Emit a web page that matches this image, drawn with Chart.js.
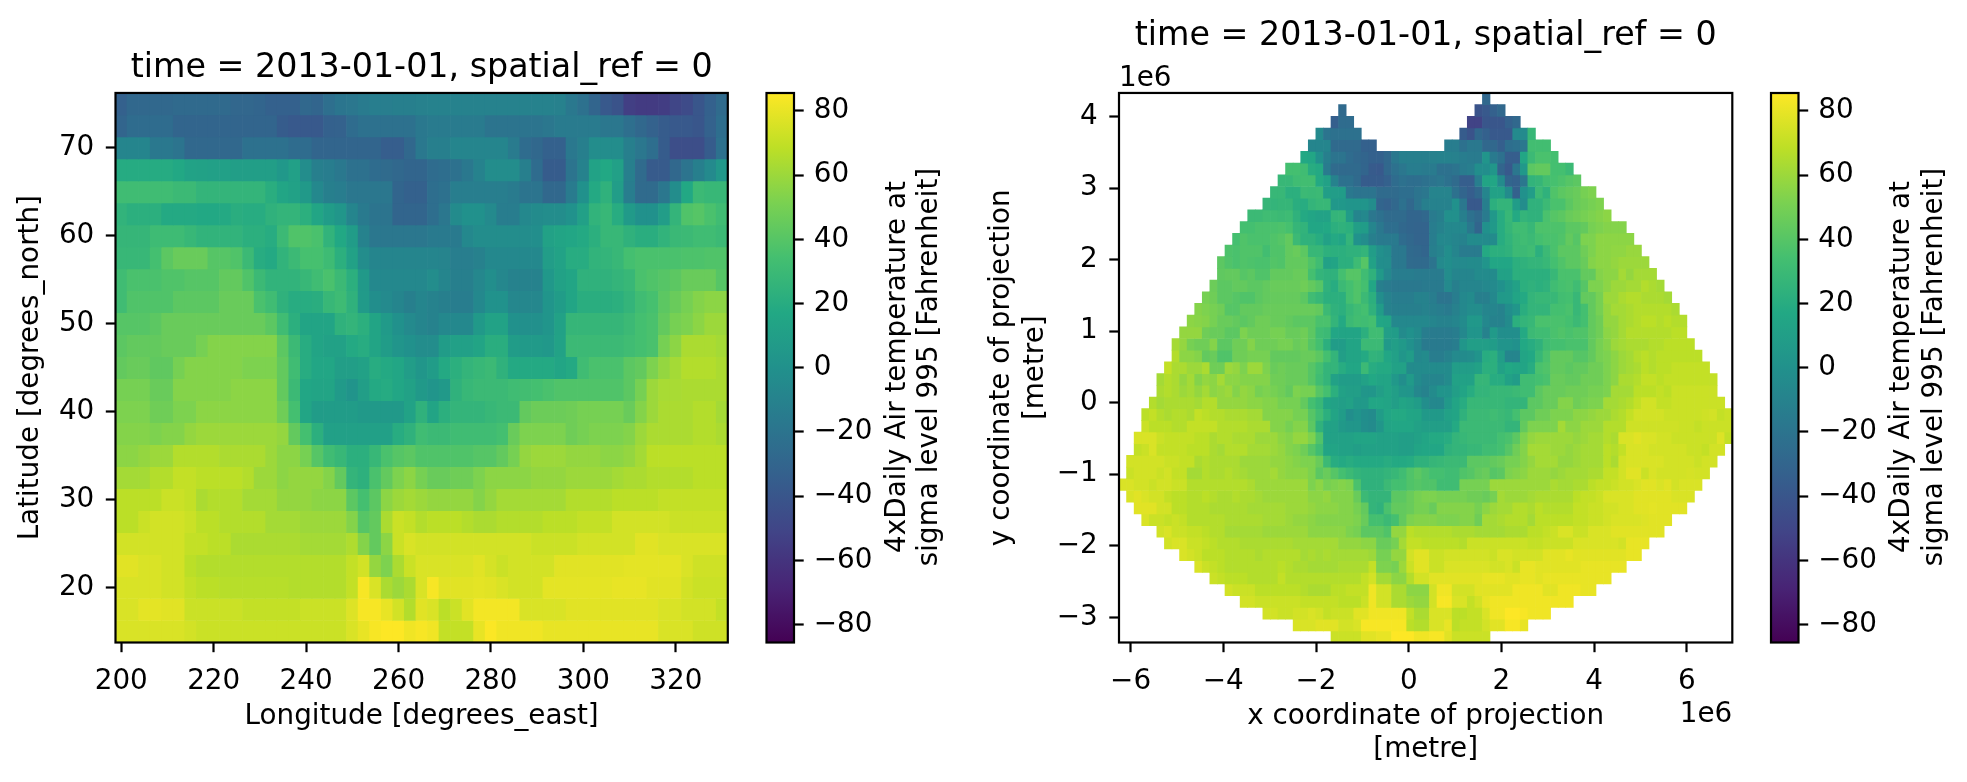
<!DOCTYPE html>
<html>
<head>
<meta charset="utf-8">
<title>Air temperature maps</title>
<script src="https://cdn.jsdelivr.net/npm/chart.js@4"></script>
<style>
    body { margin: 0; background: #fff; }
    canvas { position: absolute; top: 0; }
</style>
</head>
<body>
<canvas id="mapLatLon" style="left:0" width="750" height="782"></canvas>
<canvas id="barLatLon" style="left:750px" width="210" height="782"></canvas>
<canvas id="mapProjected" style="left:960px" width="790" height="782"></canvas>
<canvas id="barProjected" style="left:1750px" width="217" height="782"></canvas>
<script>
const __ = null;

const titleText = 'time = 2013-01-01, spatial_ref = 0';
const colorbarLines = ['4xDaily Air temperature at', 'sigma level 995 [Fahrenheit]'];
const lonTicks = [200, 220, 240, 260, 280, 300, 320];
const latTicks = [20, 30, 40, 50, 60, 70];
const projXTicks = [-6, -4, -2, 0, 2, 4, 6];
const projYTicks = [-3, -2, -1, 0, 1, 2, 3, 4];
const colorTicks = [-80, -60, -40, -20, 0, 20, 40, 60, 80];
const colorMin = -85.6;
const colorMax = 85.6;
const viridisStops = ['#440154', '#482475', '#414487', '#355f8d', '#2a788e', '#21918c', '#22a884', '#44bf70', '#7ad151', '#bddf26', '#fde725'];

// temperature on the lat/lon grid, north row first, 200E to 330E
const latLonRows = [
    [-33,-28,-28,-28,-28,-27,-27,-27,-27,-27, -29,-29,-30,-33,-33,-33,-28,-30,-23,-19, -18,-15,-13,-13,-12,-12,-11,-10,-10,-10, -10,-10,-10,-10,-10,-10,-10,-10,-11,-17, -22,-30,-38,-42,-54,-56,-56,-55,-50,-47, -40,-33,-26],
    [-30,-25,-25,-25,-25,-30,-30,-30,-30,-30, -30,-30,-30,-30,-36,-38,-38,-38,-33,-32, -25,-22,-22,-22,-22,-22,-17,-15,-15,-15, -15,-15,-20,-20,-20,-20,-20,-18,-15,-15, -15,-15,-18,-18,-23,-28,-32,-36,-38,-38, -40,-32,-24],
    [-8,-8,-8,-17,-17,-20,-28,-28,-28,-28, -28,-22,-22,-22,-22,-25,-25,-30,-30,-30, -30,-30,-30,-35,-35,-28,-17,-12,-12,-8, -8,-8,-8,-8,-15,-25,-28,-33,-33,-17, -12,-3,-3,-3,-12,-18,-24,-36,-45,-45, -45,-36,-22],
    [19,19,19,19,19,17,13,12,11,11, 10,10,10,10,5,11,-3,-12,-14,-17, -22,-22,-25,-26,-28,-30,-30,-25,-24,-22, -17,-10,-3,-3,-3,-12,-25,-36,-36,-20, -10,13,17,11,-12,-26,-37,-37,-28,-20, -12,-5,5],
    [32,32,32,32,32,30,30,26,26,26, 26,26,26,21,15,12,6,-6,-12,-14, -18,-18,-18,-18,-30,-33,-33,-24,-22,-13, -13,-13,-13,-13,-15,-20,-20,-28,-28,-15, 0,18,24,9,-14,-26,-26,-18,-3,17, 30,28,28],
    [25,22,22,22,18,18,18,17,17,18, 21,20,20,24,26,26,22,15,8,4, -8,-16,-20,-20,-30,-30,-30,-24,-18,-4, 0,0,-5,-14,-14,-6,-4,-3,-3,1, 11,25,28,20,7,0,0,9,26,38, 40,36,32],
    [27,27,27,31,31,31,28,25,25,25, 25,22,22,20,30,38,38,36,25,17, 8,-10,-18,-18,-18,-18,-18,-16,-16,-16, -6,-3,-3,-3,-3,-3,-2,12,14,16, 18,22,28,28,24,21,21,25,29,30, 32,32,30],
    [28,28,28,34,42,46,46,46,40,40, 38,30,20,18,25,30,35,35,31,22, 12,-3,-8,-8,-8,-8,-8,-8,-9,-13, -13,-11,-6,-6,-6,-6,-6,9,13,20, 20,25,26,28,34,36,36,36,36,37, 37,38,38],
    [32,36,36,36,38,38,40,40,40,44, 44,38,30,25,25,25,28,32,36,30, 22,6,-6,-6,-6,-6,-6,-3,-8,-12, -12,-7,-2,-7,-10,-10,-10,5,12,15, 24,24,24,26,28,36,38,40,42,46, 46,46,40],
    [32,38,38,38,38,42,42,42,42,46, 46,46,36,32,24,20,20,21,28,31, 24,7,-2,-5,-8,-12,-8,-10,-12,-14, -14,-6,1,1,-7,-7,-7,3,8,15, 21,21,21,22,26,32,35,42,46,50, 54,56,56],
    [40,40,40,42,46,46,46,46,46,46, 46,46,46,42,32,22,14,14,14,24, 26,22,14,7,0,-5,-8,-10,-6,-6, -6,6,13,13,0,-1,-1,3,12,27, 27,27,27,27,30,34,36,44,50,52, 56,60,60],
    [42,44,44,44,46,46,46,50,54,54, 54,54,54,54,42,30,20,14,12,12, 18,20,14,8,3,0,-3,-3,8,11, 11,14,21,21,8,7,7,5,13,30, 30,30,30,30,32,34,36,50,56,64, 64,64,62],
    [44,46,46,43,43,50,54,54,54,54, 54,52,52,52,44,32,20,16,16,10, 10,12,20,18,16,9,4,8,18,22, 26,28,30,24,18,18,18,18,15,18, 32,36,36,36,42,44,52,58,62,66, 66,66,64],
    [50,50,50,46,46,54,54,54,54,54, 56,56,56,56,44,30,16,14,14,7, 2,10,18,19,16,12,6,3,6,24, 28,30,30,30,32,33,34,36,38,38, 38,38,38,38,42,50,60,63,63,64, 64,64,64],
    [52,52,52,48,48,52,52,56,56,56, 56,56,56,56,48,34,15,8,8,8, 8,6,6,6,6,13,24,14,22,26, 26,26,28,30,30,44,47,47,47,48, 50,50,50,50,46,54,60,64,64,64, 66,66,62],
    [54,54,54,52,54,54,58,60,60,60, 60,60,60,60,58,44,34,22,11,11, 11,11,11,11,20,24,32,30,30,32, 32,32,32,34,46,52,52,52,52,48, 50,52,52,52,54,60,64,64,64,64, 66,66,64],
    [56,56,58,60,60,66,66,66,66,64, 64,64,64,60,56,56,50,40,32,28, 22,22,28,36,40,42,38,38,38,38, 38,40,40,44,50,58,60,60,60,58, 58,58,56,56,58,62,68,68,68,68, 68,68,68],
    [62,62,62,66,66,70,70,68,68,68, 68,66,60,60,56,58,58,58,54,44, 26,23,36,44,52,56,50,46,46,48, 48,52,56,56,56,56,58,58,58,60, 60,60,60,62,64,64,66,66,66,66, 68,68,68],
    [68,68,68,68,72,72,70,64,66,66, 66,62,62,62,58,58,58,56,56,56, 42,34,42,56,60,62,60,58,58,58, 58,54,58,62,62,62,62,62,62,66, 66,66,66,68,68,68,68,70,70,70, 70,70,70],
    [68,68,72,74,74,74,72,68,68,66, 66,66,66,62,62,62,60,60,60,60, 54,40,44,64,72,70,66,68,68,68, 66,64,64,66,66,66,66,68,68,68, 70,70,70,74,74,74,74,74,72,72, 72,72,72],
    [74,74,74,74,74,74,70,70,68,68, 64,64,64,64,64,64,62,62,62,62, 65,54,44,56,72,76,74,74,74,74, 74,74,74,74,74,74,72,72,72,72, 74,74,74,74,74,78,78,76,76,76, 76,76,76],
    [78,78,76,76,74,74,68,66,66,66, 66,66,66,66,66,66,66,66,66,66, 70,74,58,52,64,72,76,76,76,76, 76,78,75,72,74,74,74,74,78,78, 78,78,78,78,79,79,79,79,79,76, 73,73,73],
    [76,76,76,76,74,74,70,68,68,67, 67,67,67,67,67,66,66,66,66,66, 70,84,76,64,60,64,76,84,78,78, 78,79,78,76,74,74,74,79,79,79, 79,79,79,80,80,80,78,78,78,74, 72,72,72],
    [76,76,79,79,78,78,72,72,72,72, 72,70,70,70,70,70,72,72,72,72, 77,84,84,80,74,66,78,76,68,72, 78,83,83,83,83,76,76,76,76,78, 78,78,78,78,78,78,78,76,76,74, 74,74,70],
    [76,76,76,76,76,76,74,72,72,72, 72,72,72,72,72,72,72,72,72,72, 76,80,84,86,86,82,84,82,70,70, 70,80,85,82,82,82,82,80,80,80, 80,80,80,80,80,80,80,76,76,76, 73,73,73]
];

// first filled column of each row on the projected grid, top row first
const projStarts = [48,29,28,26,25,24,22,21,20,19,17,16,15,14,13,13,12,11,10,9,8,7,7,6,5,5,4,3,3,2,2,1,1,0,1,2,3,5,6,8,10,12,14,16,19,23,28];

// temperature on the projected grid, each row begins at its column in projStarts
const projRows = [
    [-28],
    [-27, __,__,__,__,__,__,__,__,__,__,__,__,__,__,__,__,__, -42,-38,-33,-28],
    [-34,-25,-25, __,__,__,__,__,__,__,__,__,__,__,__,__,__,__, -52,-52,-40,-40,-40,-33,-28],
    [-5,-20,-22,-22,-22,-22, __,__,__,__,__,__,__,__,__,__,__,__,__, -36,-42,-28,-33,-38,-38,-38,-5,-5,28],
    [-8,-8,-8,-27,-27,-27,-27,-33,-33, __,__,__,__,__,__,__,__,__, -14,-14,-22,-17,-17,-28,-28,-34,-24,-22,-18,33,33,33],
    [17,16,0,-12,-20,-20, -25,-28,-30,-33,-33,-28,-17,-12,-12,-12, -12,-11,-10,-10,-11,-14,-15,-15,3,-16, -22,-35,-35,16,30,36,36,34],
    [34,34,32,20,18,-15,-26,-27, -27,-27,-30,-37,-38,-28,-22,-18,-14,-14, -15,-15,-22,-22,-20,-15,-13,-2,-2,4, -30,-38,-18,5,42,44,44,34,34,30],
    [28,28,32,33,33,18,12,-10,-22, -22,-27,-36,-36,-36,-33,-25,-22,-24,-24, -22,-20,-18,-22,-26,-35,-35,-13,14,16, -4,-30,-32,-18,25,27,33,35,37,40,42],
    [28,28,22,22,30,29,30,10,9,8, -17,-20,-20,-20,-26,-26,-26,-24,-24,-20, -18,-9,-9,-9,-22,-30,-35,-28,-8,12, 12,-4,-33,0,9,30,24,38,42,44, 46,50,52],
    [27, 26,27,27,21,20,26,28,28,5,5, 3,3,3,-3,-30,-32,-28,-22,-28,-20, -12,-10,-10,-10,0,-18,-38,-38,-12,22, 26,26,8,-3,24,24,30,36,36,42, 46,48,50,52],
    [30,30,32, 31,30,31,24,18,15,13,13,26,27, 8,-8,-6,-18,-22,-26,-26,-26,-30,-30, -28,-15,-12,-1,-1,-12,-22,-27,-15,5, 20,28,18,26,24,24,36,40,42,46, 48,50,52,54,56],
    [34,34,36,36, 36,37,35,27,25,16,16,17,22,24, 22,10,8,-8,-17,-24,-24,-28,-30,-31, -31,-14,-10,-6,-6,-6,-17,-30,0,6, 20,27,32,32,28,37,37,37,37,42, 42,44,50,52,54,54,54],
    [34,38,36,36,36, 38,40,44,30,24,24,20,12,18,15, 26,1,-3,-12,-16,-16,-16,-25,-28,-31, -31,-14,-6,-6,-8,-10,-4,-4,-4,-4, 20,25,30,32,30,34,36,36,38,44, 40,52,52,56,56,56,56,56],
    [37,36,38,38,38,33, 38,38,44,46,42,28,28,23,22,22, 24,24,26,9,-1,-4,-17,-17,-27,-28, -30,-12,-9,-2,-8,-15,-15,-15,18,22, 22,24,30,30,32,22,30,36,42,42, 42,48,52,56,56,57,57,59,59],
    [42,38,36,38,37,36,36, 39,38,44,44,44,38,32,12,14,22, 22,31,40,12,-2,-3,-17,-17,-26,-27, -27,-20,-5,-2,-5,-5,-4,-4,3,16, 16,16,22,24,26,26,28,34,38,42, 42,46,54,56,56,58,60,60,60,60],
    [43,44,44,40,42,38,38, 44,44,44,46,46,34,26,24,24,34, 40,40,32,24,6,-6,-14,-14,-14,-15, -15,-15,-15,-3,-8,-8,-8,-4,-4,-4, 12,12,22,22,22,22,22,28,36,36, 36,44,44,54,56,56,62,58,62,62,62],
    [47,42,42,44,44,42,42,44, 46,46,46,46,48,44,40,24,20,30, 34,38,34,16,-12,-15,-17,-17,-17,-17, -16,-16,-16,-5,-12,-8,-8,-8,-6,-5, 0,6,12,22,24,22,24,32,35,36, 32,40,52,52,56,60,60,62,62,66,64,62],
    [50,48,42,42,40,38,38,42,44, 45,45,45,45,42,32,28,22,22,22, 34,38,30,22,-2,-10,-14,-14,-14,-10, -10,-14,-20,-20,-14,-6,-4,-12,-12,-6, 6,7,14,18,26,28,28,28,33,34, 28,44,44,50,60,60,64,66,66,64,64,64,62],
    [54,52,50,48,40,40,44,44,44,46, 46,46,46,46,46,46,44,30,24,22, 28,32,34,24,8,-10,-12,-12,-12,-12, -10,-12,-14,-16,-11,-6,-3,-3,-8,-8, -10,-2,4,21,26,26,26,34,34,36, 28,34,44,50,58,62,62,64,66,66,66,66,66,64],
    [56, 55,54,50,46,46,44,42,44,48,48, 46,46,44,42,42,42,36,36,26,18, 30,33,32,34,16,14,-6,-6,-6,-6, -6,-8,-10,-10,-8,-4,5,5,-6,-10, -10,-4,22,26,28,36,36,36,36,34, 30,34,44,48,58,58,62,64,66,68,68,66,68,66,66],
    [58,58, 58,48,46,46,42,42,52,48,48,48, 50,50,46,46,48,42,32,30,16,14, 14,14,22,32,32,10,8,-4,0,-4, -14,-15,-15,-15,-14,-6,3,3,-10,7, -2,-2,-2,18,30,32,32,36,38,36, 38,38,44,48,56,58,62,66,66,66,66,66,66,68,68],
    [62,58,50, 48,48,54,42,42,48,48,54,48,48, 48,50,50,46,48,40,34,22,8,8, 14,14,30,30,30,6,10,6,0,-6, -16,-16,-16,-16,-14,4,10,10,10,8, 2,2,0,17,20,24,32,34,34,36, 36,36,44,50,54,60,62,64,64,64,66,66,68,68,68,68],
    [66,56,56, 54,44,46,38,38,48,48,50,50,50, 44,44,44,44,46,46,42,34,26,10, 14,14,18,25,24,16,11,4,8,-6, -4,-14,-14,-10,-5,-4,-3,2,20,22, 9,-8,-8,14,17,28,36,44,44,44, 40,40,44,50,52,56,60,62,66,68,66,68,68,68,68,68,68],
    [70,64,64,60, 60,64,48,48,60,58,52,60,60,52, 46,48,46,46,46,40,34,26,26,20, 16,16,30,20,18,18,12,12,-4,-4, -4,-4,-4,-4,9,9,9,12,22,22, 12,17,15,14,20,36,38,44,44,42, 44,44,48,48,52,56,60,62,64,68,66,68,68,70,70,70,70,70],
    [62,66,64,58,62, 54,58,56,62,56,56,54,54,54,54, 48,48,46,46,46,40,32,26,12,8, 8,8,12,17,14,14,5,-2,7,-4, -8,-8,-8,-4,12,12,12,27,27,20, 20,12,8,32,32,34,36,46,46,44, 44,48,48,48,52,56,64,64,66,70,70,68,70,70,70,70,70,70,70],
    [64,66,64,60,62, 58,62,56,58,60,54,58,56,50,52, 50,48,44,52,50,50,40,34,22,12, 10,10,4,4,10,14,10,4,3,-7, -10,-4,2,2,10,14,20,26,26,28, 28,28,30,32,32,42,46,46,46,48, 48,48,50,50,52,62,62,62,68,68,68,70,68,72,72,72,72,72,72],
    [66,62,64,64,64,64, 62,66,66,58,58,58,58,56,56,54, 54,50,50,50,44,34,28,14,12,10, 12,6,6,16,16,14,10,14,12,8, -2,-6,-6,6,14,20,28,28,28,28, 28,26,26,26,42,42,46,46,54,54, 48,50,52,52,62,62,64,66,70,74,74,70,70,72,72,72,72,72,72,72],
    [68,70,66,64,66,66,64, 70,68,66,66,64,64,64,62,62,54, 54,54,54,50,50,40,32,22,14,8, -2,2,-2,-4,8,16,18,18,15,14, 6,6,6,12,14,24,30,30,30,32, 30,28,34,42,42,48,48,52,52,52, 56,56,58,60,60,64,66,70,74,74,74,74,72,72,72,72,72,73,74,70,72],
    [72,68,68,68,66,66,70, 70,70,70,66,66,66,66,64,64,64, 54,54,50,54,54,42,24,12,12,6, 4,4,-2,-4,4,14,16,16,16,12, 10,10,10,10,18,30,30,30,30,30, 30,26,26,44,52,52,52,52,62,56, 56,60,60,60,66,66,66,73,73,73,73,73,73,73,72,72,70,72,72,72,72],
    [76,76,76,72,70,70,70,70, 68,68,64,66,66,64,64,64,60,60, 60,56,54,58,58,52,38,12,12,12, 12,14,14,14,12,12,12,10,10,12, 15,18,18,20,26,28,30,30,30,30, 34,36,42,52,58,60,60,60,60,60, 58,60,62,62,66,64,76,76,78,76,76,74,74,72,72,72,72,72,72,77,70],
    [70,72,76,70,70,70,70,68, 68,68,64,62,66,66,66,62,62,62, 60,58,54,52,48,40,32,14,14,12, 12,10,12,12,12,12,12,10,10,14, 16,16,16,24,26,26,28,28,32,32, 34,40,48,54,62,62,62,60,60,58, 60,62,62,62,68,66,70,76,76,76,74,74,74,74,74,72,72,70,74,74],
    [74,74,74,74,74,72,72,70,70, 64,66,64,64,64,64,60,60,60,60, 58,58,56,54,52,52,46,30,20,18, 20,18,18,18,18,20,18,18,19,24, 24,27,28,30,30,30,42,42,42,44, 46,50,50,54,58,62,62,62,58,58, 60,62,62,62,68,64,74,76,76,76,76,76,74,74,74,74,72,74,74],
    [72,74,74,74,72,74,70,70,62, 62,66,64,64,66,64,62,60,60,60, 62,58,56,56,56,52,42,46,40,34, 30,26,24,24,24,26,28,32,38,42, 38,34,34,32,32,38,40,44,46,40, 42,52,54,56,60,60,60,58,60,62, 62,62,64,64,70,70,74,78,78,72,76,74,74,74,74,75,74,74],
    [76,76,74,74,72,74,74,72,72,66, 66,66,66,66,66,66,66,64,60,60, 60,60,60,60,60,52,56,50,52,54, 52,36,24,24,24,30,34,34,38,40, 38,38,32,32,32,50,50,50,50,60, 60,60,60,60,60,60,60,64,62,62, 64,64,68,70,70,72,74,74,76,78,78,76,78,74,76,76,76],
    [76,78,76,74,74,70,68,68,66, 66,68,66,64,64,66,64,64,62,60, 60,60,60,60,60,56,56,58,54,54, 54,46,30,26,26,26,42,42,46,50, 52,52,50,50,50,50,48,48,46,50, 62,60,60,60,62,64,64,64,64,64, 68,70,70,72,76,76,76,76,78,78,78,78,78,76,76,76],
    [78,78,78,74,74,68,68,66, 66,66,64,64,64,64,64,62,62,62, 62,62,60,60,60,58,56,56,56,54, 54,50,44,26,24,36,44,44,46,50, 50,46,54,54,54,54,54,50,56,60, 62,62,66,66,64,68,66,66,66,66, 70,70,72,72,74,74,76,76,78,78,79,78,78,78,78],
    [76,72,72,70,72,70,66, 66,66,66,66,64,64,64,64,64,62, 62,62,60,58,58,56,54,54,54,54, 54,52,46,34,34,30,34,44,52,54, 54,54,52,52,52,54,54,48,62,62, 64,66,66,66,62,68,68,68,68,68, 70,70,72,72,74,76,76,76,76,77,78,78,78],
    [74,76,72,72,70, 70,68,66,66,62,62,62,62,62,60, 60,60,60,60,60,56,56,56,56,56, 52,50,42,42,42,38,58,58,68,66, 66,66,66,66,64,64,64,62,62,62, 62,64,64,64,68,68,70,72,76,76, 72,72,76,76,76,78,78,78,78,78,78,78],
    [74,76,76,72, 72,70,68,66,66,66,64,64,64,64, 64,64,64,62,62,62,62,62,62,58, 58,58,56,56,46,46,50,62,70,70, 68,68,68,68,68,66,72,72,72,72, 72,72,72,72,70,70,72,72,72,72, 76,76,76,76,76,76,74,80,80,80],
    [76,74, 72,68,68,68,66,66,66,66,64,66, 66,66,66,66,62,64,62,64,62,62, 62,62,62,60,50,50,58,58,74,78, 78,72,72,74,74,74,74,74,74,72, 76,76,74,74,74,74,78,78,78,80, 78,78,78,78,78,78,78,80,80],
    [76,72,70,68,66,66,66,66,66,66, 66,68,66,64,64,62,62,62,62,64, 64,64,64,70,52,52,50,60,72,78, 78,72,72,76,76,76,76,76,76,74, 74,76,72,80,80,78,78,78,78,78, 78,80,80,80,80,80,80],
    [72,70,68,68,68,66,66,66, 66,70,66,66,66,66,66,66,66,66, 66,66,70,74,62,62,56,56,66,74, 74,78,78,78,78,78,78,78,80,80, 80,78,78,80,80,78,80,80,80,80, 80,80,80,80,80],
    [74,72,72,72,68,68, 68,68,68,68,66,64,64,64,68,68, 70,70,70,82,74,74,64,64,56,56, 56,74,82,82,74,74,74,78,78,78, 78,78,82,82,82,82,78,78,82,82, 82,80,80],
    [74,74,72,72, 72,72,72,72,70,70,70,70,70,68, 68,68,72,82,74,74,64,64,60,58, 58,74,84,84,76,76,70,74,80,82, 82,82,82,82,82,82,82,82,82,82],
    [74, 74,72,72,74,74,76,74,70,72,72, 72,78,78,82,82,82,82,82,70,64, 64,76,76,76,68,68,70,70,76,82, 82,86,86,84,82,82,82],
    [76,76,76,78,78,78,74, 74,76,84,84,84,84,84,84,68,66, 66,76,76,80,68,70,70,70,74,78, 78,84,84,80],
    [72,72, 72,72,78,78,80,80,86,86,86,82, 82,84,84,78,72,72,72,72,72]
];

// grid geometry of the two maps
const lonFirst = 200, lonStep = 2.5;
const latFirst = 75, latStep = -2.5;
const projXMin = -6.25, projXMax = 6.98, projYMin = -3.352, projYMax = 4.331;
const projColumns = 81, projRowCount = 47;

Chart.defaults.font.family = '"DejaVu Sans"';
Chart.defaults.font.size = 27.8;
Chart.defaults.color = '#000';

function hexToRgb(hex) {
    return [1, 3, 5].map(i => parseInt(hex.slice(i, i + 2), 16));
}

function viridis(value) {
    const t = Math.min(1, Math.max(0, (value - colorMin) / (colorMax - colorMin))) * (viridisStops.length - 1);
    const i = Math.min(Math.floor(t), viridisStops.length - 2);
    const a = hexToRgb(viridisStops[i]);
    const b = hexToRgb(viridisStops[i + 1]);
    const mix = a.map((c, k) => Math.round(c + (b[k] - c) * (t - i)));
    return 'rgb(' + mix.join(',') + ')';
}

function formatTick(value) {
    return value < 0 ? '\u2212' + Math.abs(value) : String(value);
}

// one floating-bar dataset per grid row, coloured cell by cell
function cellDatasets(rows, starts, xAt, yAt, halfHeight) {
    return rows.map((row, r) => {
        const data = [];
        const colors = [];
        row.forEach((value, k) => {
            if (value === null) return;
            const y = yAt(r);
            data.push({ x: xAt(starts[r] + k), y: [y - halfHeight, y + halfHeight] });
            colors.push(viridis(value));
        });
        return { data: data, backgroundColor: colors };
    });
}

// axes frame and the free-standing labels that are not axis titles
const framePlugin = {
    id: 'frame',
    afterDatasetsDraw(chart, args, opts) {
        const ctx = chart.ctx;
        const area = chart.chartArea;
        ctx.save();
        ctx.strokeStyle = '#000';
        ctx.lineWidth = 2.2;
        ctx.strokeRect(area.left, area.top, area.right - area.left, area.bottom - area.top);
        ctx.fillStyle = '#000';
        ctx.font = '27.8px "DejaVu Sans"';
        ctx.textBaseline = 'middle';
        (opts.notes || []).forEach(note => {
            ctx.save();
            ctx.translate(note.x, note.y);
            ctx.rotate(note.rotate || 0);
            ctx.textAlign = note.align || 'center';
            ctx.fillText(note.text, 0, 0);
            ctx.restore();
        });
        ctx.restore();
    }
};

function tickAxis(ticks, pad) {
    return {
        afterBuildTicks: scale => { scale.ticks = ticks.map(v => ({ value: v })); },
        ticks: { autoSkip: false, maxRotation: 0, padding: pad, callback: formatTick },
        grid: { drawOnChartArea: false, offset: false, tickLength: 9.7, tickWidth: 2.2, tickColor: '#000' },
        border: { display: false }
    };
}

function mapChart(id, layout) {
    return new Chart(document.getElementById(id), {
        type: 'bar',
        data: { datasets: layout.datasets },
        plugins: [framePlugin],
        options: {
            responsive: false,
            animation: false,
            events: [],
            layout: { padding: { right: layout.rightPad } },
            datasets: { bar: { grouped: false, barPercentage: 1, categoryPercentage: 1, borderWidth: 0 } },
            plugins: {
                legend: { display: false },
                tooltip: { enabled: false },
                frame: { notes: layout.notes },
                title: {
                    display: true,
                    text: titleText,
                    fullSize: false,
                    color: '#000',
                    font: { size: 33.3, weight: 'normal', lineHeight: 1.2 },
                    padding: layout.titlePad
                }
            },
            scales: {
                x: Object.assign(tickAxis(layout.xTicks, 13), {
                    type: 'linear',
                    offset: false,
                    min: layout.xMin,
                    max: layout.xMax,
                    afterFit: scale => { scale.height = 139.5; },
                    title: {
                        display: true,
                        text: layout.xTitle,
                        font: { size: 27.8, lineHeight: 1.2 },
                        padding: { top: 0, bottom: layout.xTitleBottom }
                    }
                }),
                y: Object.assign(tickAxis(layout.yTicks, 11.5), {
                    min: layout.yMin,
                    max: layout.yMax,
                    afterFit: scale => { scale.width = layout.yWidth; },
                    title: {
                        display: true,
                        text: layout.yTitle,
                        font: { size: 27.8, lineHeight: 1.2 },
                        padding: { top: layout.yTitleTop, bottom: 0 }
                    }
                })
            }
        }
    });
}

function colorbarChart(id, layout) {
    return new Chart(document.getElementById(id), {
        type: 'bar',
        data: {
            labels: ['scale'],
            datasets: [{
                data: [[colorMin, colorMax]],
                backgroundColor: context => {
                    const area = context.chart.chartArea;
                    if (!area) return viridis(0);
                    const gradient = context.chart.ctx.createLinearGradient(0, area.bottom, 0, area.top);
                    viridisStops.forEach((c, i) => gradient.addColorStop(i / (viridisStops.length - 1), c));
                    return gradient;
                }
            }]
        },
        plugins: [framePlugin],
        options: {
            responsive: false,
            animation: false,
            events: [],
            layout: { padding: { left: layout.leftPad, top: 93, bottom: 139.5 } },
            datasets: { bar: { barPercentage: 1, categoryPercentage: 1, borderWidth: 0 } },
            plugins: {
                legend: { display: false },
                tooltip: { enabled: false },
                frame: { notes: layout.notes }
            },
            scales: {
                x: { display: false },
                y: Object.assign(tickAxis(colorTicks, 10), {
                    position: 'right',
                    min: colorMin,
                    max: colorMax,
                    afterFit: scale => { scale.width = layout.yWidth; }
                })
            }
        }
    });
}

function colorbarNotes(x1, x2) {
    return [
        { text: colorbarLines[0], x: x1, y: 367, rotate: -Math.PI / 2 },
        { text: colorbarLines[1], x: x2, y: 367, rotate: -Math.PI / 2 }
    ];
}

// longitude/latitude map
mapChart('mapLatLon', {
    datasets: cellDatasets(
        latLonRows,
        latLonRows.map(() => 0),
        c => lonFirst + lonStep * c,
        r => latFirst + latStep * r,
        Math.abs(latStep) / 2
    ),
    xMin: lonFirst - lonStep / 2,
    xMax: lonFirst + lonStep * 52.5,
    yMin: latFirst + latStep * 24.5,
    yMax: latFirst - latStep / 2,
    xTicks: lonTicks,
    yTicks: latTicks,
    xTitle: 'Longitude [degrees_east]',
    yTitle: 'Latitude [degrees_north]',
    xTitleBottom: 48.8,
    yTitleTop: 14.3,
    yWidth: 115.5,
    rightPad: 22.2,
    titlePad: { top: 48.5, bottom: 4.5 },
    notes: []
});
colorbarChart('barLatLon', { leftPad: 16.5, yWidth: 166, notes: colorbarNotes(148, 180) });

// projected map
const cellW = (projXMax - projXMin) / projColumns;
const cellH = (projYMax - projYMin) / projRowCount;
mapChart('mapProjected', {
    datasets: cellDatasets(
        projRows,
        projStarts,
        c => projXMin + cellW * (c + 0.5),
        r => projYMax - cellH * (r + 0.5),
        cellH / 2
    ),
    xMin: projXMin,
    xMax: projXMax,
    yMin: projYMin,
    yMax: projYMax,
    xTicks: projXTicks,
    yTicks: projYTicks,
    xTitle: ['x coordinate of projection', '[metre]'],
    yTitle: ['y coordinate of projection', '[metre]'],
    xTitleBottom: 15.4,
    yTitleTop: 25.3,
    yWidth: 159,
    rightPad: 17.7,
    titlePad: { top: 16.5, bottom: 36.5 },
    notes: [
        { text: '1e6', x: 159, y: 78.5, align: 'left' },
        { text: '1e6', x: 772.3, y: 714.5, align: 'right' }
    ]
});
colorbarChart('barProjected', { leftPad: 21, yWidth: 168.5, notes: colorbarNotes(152, 185) });
</script>
</body>
</html>
